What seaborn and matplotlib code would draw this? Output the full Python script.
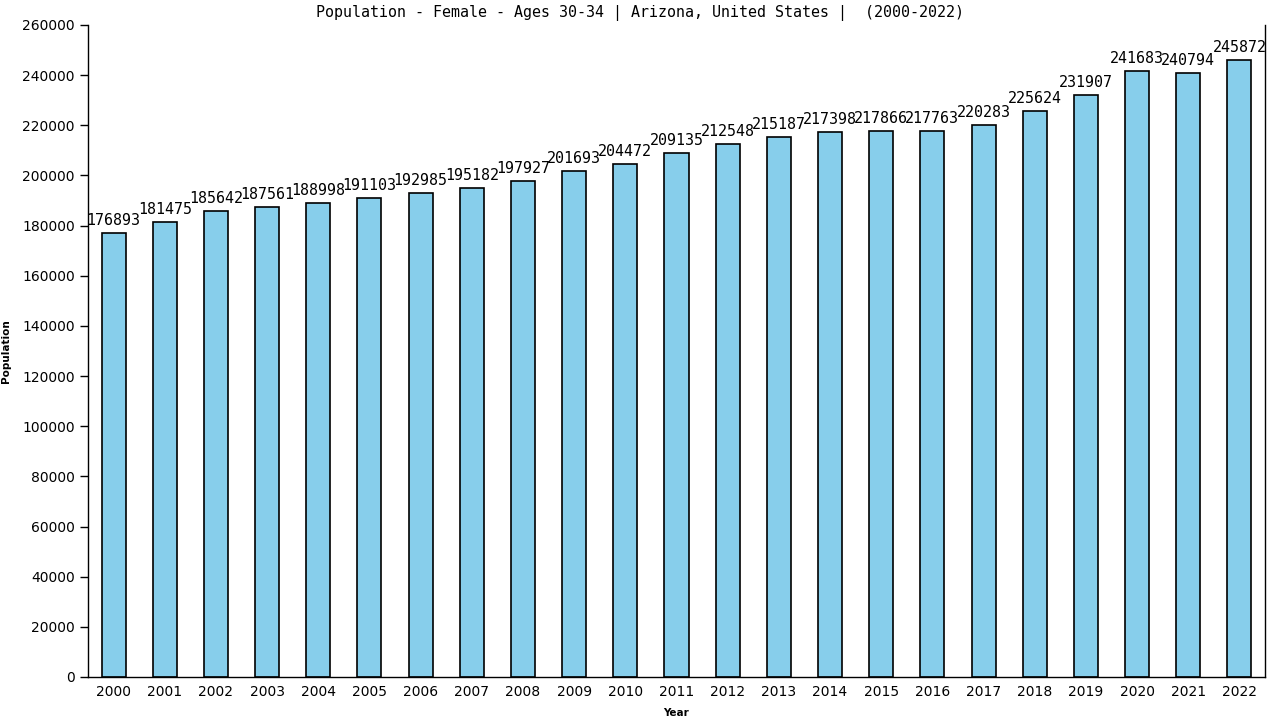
import matplotlib
matplotlib.use('Agg')
import matplotlib.pyplot as plt
import seaborn as sns
import pandas as pd

# --- data ---
years = [str(y) for y in range(2000, 2023)]
population = [176893, 181475, 185642, 187561, 188998, 191103, 192985, 195182,
              197927, 201693, 204472, 209135, 212548, 215187, 217398, 217866,
              217763, 220283, 225624, 231907, 241683, 240794, 245872]

df = pd.DataFrame({'Year': years, 'Population': population})

sns.set_style('white')
plt.rcParams['font.family'] = ['DejaVu Sans']
plt.rcParams['text.color'] = 'black'
plt.rcParams['axes.labelcolor'] = 'black'
plt.rcParams['xtick.color'] = 'black'
plt.rcParams['ytick.color'] = 'black'

fig = plt.figure(figsize=(12.8, 7.2), dpi=100)
ax = fig.add_axes([88 / 1280, 43 / 720, 1177 / 1280, 652 / 720])

sns.barplot(data=df, x='Year', y='Population', color='#87CEEB', saturation=1,
            edgecolor='black', linewidth=1.2, width=0.47, ax=ax)

for i, v in enumerate(population):
    ax.text(i, v + 2000, str(v), ha='center', va='bottom',
            family='DejaVu Sans Mono', fontsize=10.8)

ax.set_xlim(-0.5, 22.5)
ax.set_ylim(0, 260000)
ax.set_yticks(range(0, 260001, 20000))
ax.tick_params(axis='y', length=6, width=1, labelsize=10, direction='out', left=True)
ax.tick_params(axis='x', length=0, labelsize=10, pad=6)

for s in ['left', 'bottom', 'right']:
    ax.spines[s].set_visible(True)
    ax.spines[s].set_color('black')
    ax.spines[s].set_linewidth(1)
ax.spines['top'].set_visible(False)

ax.set_xlabel('Year', fontsize=7.5, fontweight='bold', labelpad=6)
ax.set_ylabel('Population', fontsize=7.5, fontweight='bold', labelpad=8)
fig.text(0.5, 1 - 13 / 720, 'Population - Female - Ages 30-34 | Arizona, United States |  (2000-2022)',
         family='DejaVu Sans Mono', fontsize=10.8, ha='center', va='center')

fig.savefig('out.png', dpi=100)
